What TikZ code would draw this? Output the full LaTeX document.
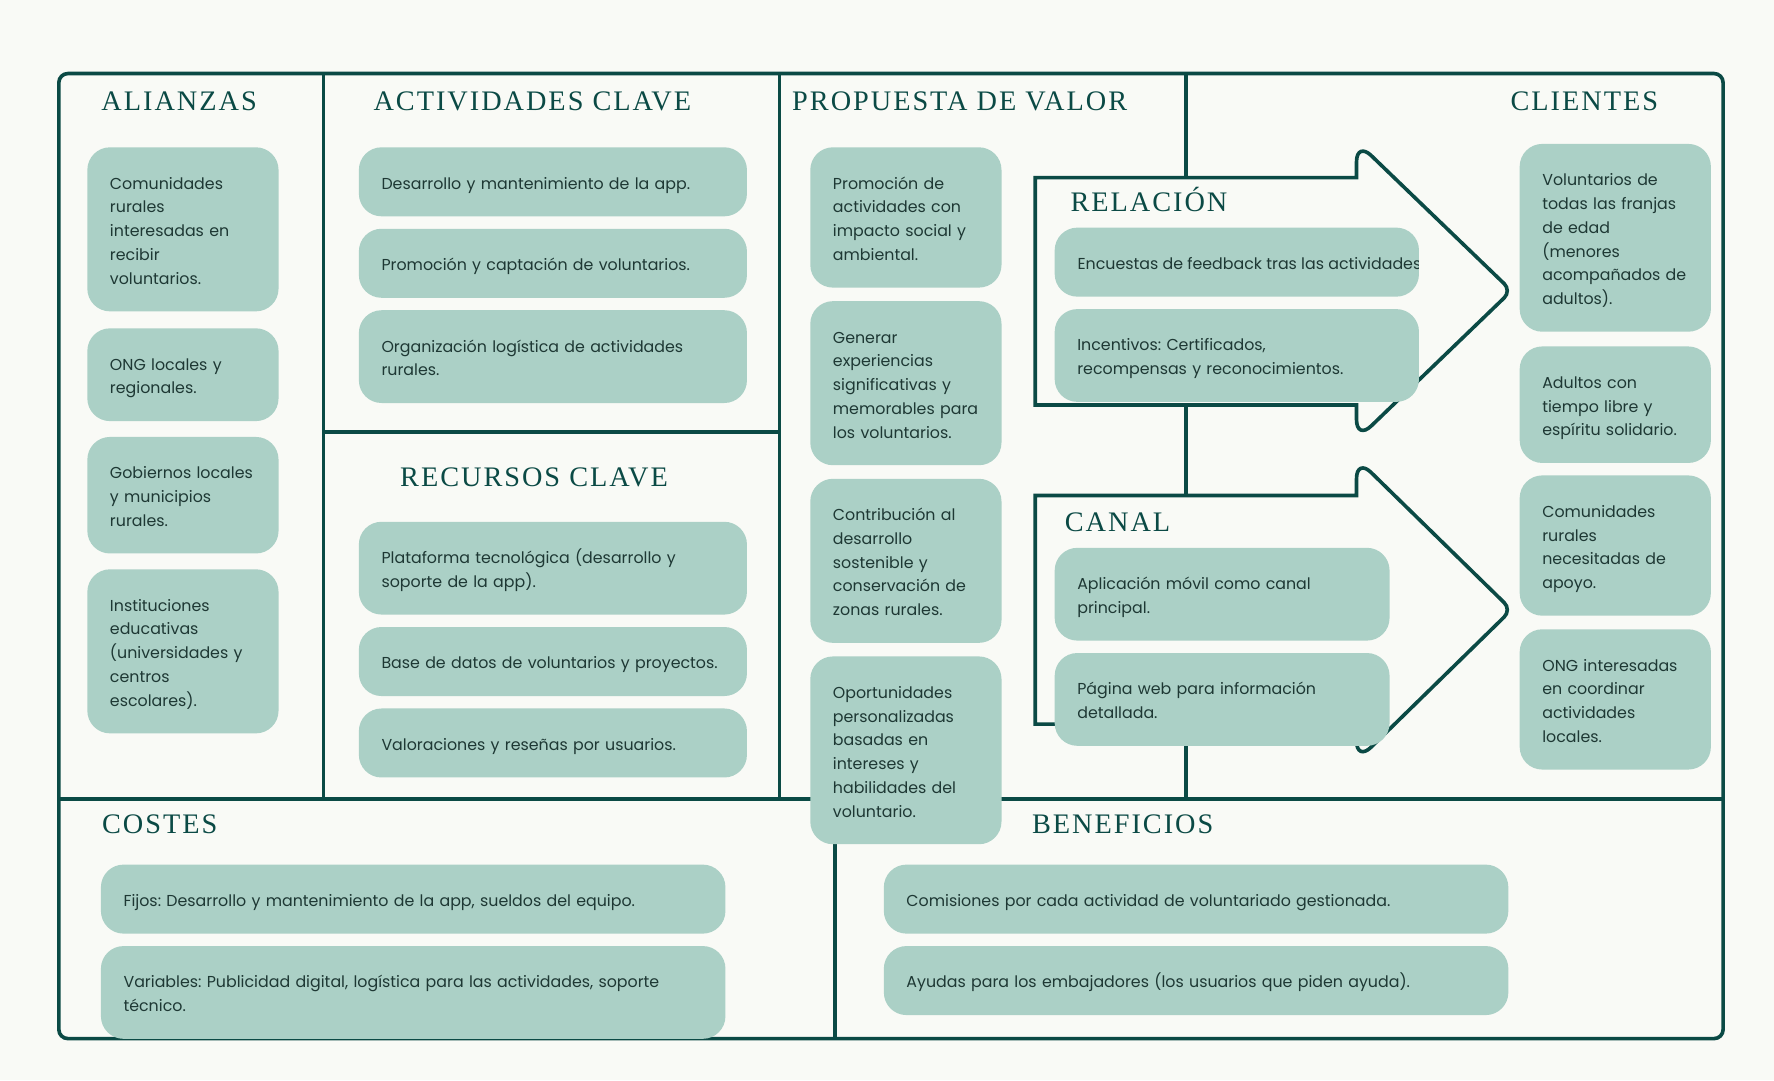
\documentclass[tikz,border=0pt]{standalone}
\usepackage{fontspec}
\setmainfont{Poppins}
\newfontfamily\headfont[LetterSpace=7]{Liberation Serif}
\definecolor{canvas}{HTML}{F9FAF6}
\definecolor{pine}{HTML}{0B4A45}
\definecolor{sage}{HTML}{ABD0C6}
\definecolor{ink}{HTML}{1E3834}
\hyphenpenalty=10000
\exhyphenpenalty=10000
\frenchspacing

\begin{document}
\begin{tikzpicture}[x=1pt,y=-1pt,
    card/.style={fill=sage,rounded corners=20pt,anchor=north west,align=left,
      inner xsep=20pt,inner ysep=0pt,text=ink,font=\fontsize{14}{21}\selectfont,
      execute at begin node=\rule{0pt}{17pt},execute at end node=\rule[-4pt]{0pt}{4pt}},
    rows/.style={minimum height=21pt*#1+40pt},
    narrow/.style={card,minimum width=169pt,text width=129pt},
    wide/.style={card,minimum width=343pt,text width=303pt},
    relbox/.style={card,minimum width=322pt,text width=282pt},
    canbox/.style={card,minimum width=296pt,text width=256pt},
    long/.style={card,minimum width=552pt,text width=512pt},
    head/.style={anchor=base west,inner sep=0pt,text=pine,font=\headfont\fontsize{25}{25}\selectfont},
    frame/.style={draw=pine,line width=3.2pt},
    bigarrow/.style={fill=canvas,draw=pine,line width=3.2pt}]
  \fill[canvas] (0,0) rectangle (1568,955);
  \useasboundingbox (0,0) rectangle (1568,955);

  \draw[frame,rounded corners=8pt] (52,65) rectangle (1523,918);
  \draw[frame] (286,65) -- (286,706) (689,65) -- (689,706) (1048,65) -- (1048,706)
    (52,706) -- (1523,706) (738,706) -- (738,918) (286,382) -- (689,382);

  \draw[bigarrow] (915,157) -- (1199,157) [rounded corners=18pt] -- (1199,125) [rounded corners=9pt] -- (1336,257)
    [rounded corners=18pt] -- (1199,389) [sharp corners] -- (1199,358) -- (915,358) -- cycle;
  \draw[bigarrow] (915,438) -- (1199,438) [rounded corners=18pt] -- (1199,405) [rounded corners=9pt] -- (1336,539)
    [rounded corners=18pt] -- (1199,673) [sharp corners] -- (1199,640) -- (915,640) -- cycle;

  \node[head] (alianzas) at (89.5,98) {ALIANZAS};
  \node[head] (actividades) at (330,98) {ACTIVIDADES CLAVE};
  \node[head] (propuesta) at (700,98) {PROPUESTA DE VALOR};
  \node[head] (clientes) at (1335,98) {CLIENTES};
  \node[head] (recursos) at (353.5,430) {RECURSOS CLAVE};
  \node[head] (relacion) at (946,187) {RELACIÓN};
  \node[head] (canal) at (941,470) {CANAL};
  \node[head] (costes) at (90,737) {COSTES};
  \node[head] (beneficios) at (912,737) {BENEFICIOS};

  \node[narrow,rows=5] (ali1) at (77,130) {Comunidades\\rurales\\interesadas en\\recibir\\voluntarios.};
  \node[narrow,rows=2] (ali2) at (77,290) {ONG locales y\\regionales.};
  \node[narrow,rows=3] (ali3) at (77,386) {Gobiernos~locales\\y municipios\\rurales.};
  \node[narrow,rows=5] (ali4) at (77,503) {Instituciones\\educativas\\(universidades~y\\centros\\escolares).};

  \node[wide,rows=1] (act1) at (317,130) {Desarrollo y mantenimiento de la app.};
  \node[wide,rows=1] (act2) at (317,202) {Promoción y captación de voluntarios.};
  \node[wide,rows=2] (act3) at (317,274) {Organización logística de actividades\\rurales.};
  \node[wide,rows=2] (rec1) at (317,461) {Plataforma tecnológica (desarrollo y\\soporte de la app).};
  \node[wide,rows=1] (rec2) at (317,554) {Base de datos de voluntarios y proyectos.};
  \node[wide,rows=1] (rec3) at (317,626) {Valoraciones y reseñas por usuarios.};

  \node[narrow,rows=4] (val1) at (716,130) {Promoción de\\actividades con\\impacto social~y\\ambiental.};
  \node[narrow,rows=5] (val2) at (716,266) {Generar\\experiencias\\significativas~y\\memorables~para\\los voluntarios.};
  \node[narrow,rows=5] (val3) at (716,423) {Contribución~al\\desarrollo\\sostenible y\\conservación~de\\zonas rurales.};
  \node[narrow,rows=6] (val4) at (716,580) {Oportunidades\\personalizadas\\basadas en\\intereses y\\habilidades~del\\voluntario.};

  \node[relbox,rows=1,path picture={
      \node[anchor=west,inner sep=0pt,minimum width=0pt,minimum height=0pt,text width=,text=ink]
        at ([xshift=20pt]path picture bounding box.west) {Encuestas de feedback tras las actividades.};}]
    (rel1) at (932,201) {};
  \node[relbox,rows=2] (rel2) at (932,273) {Incentivos: Certificados,\\recompensas y reconocimientos.};
  \node[canbox,rows=2] (can1) at (932,484) {Aplicación móvil como canal\\principal.};
  \node[canbox,rows=2] (can2) at (932,577) {Página web para información\\detallada.};

  \node[narrow,rows=6] (cli1) at (1343,127) {Voluntarios de\\todas las franjas\\de edad\\(menores\\acompañados~de\\adultos).};
  \node[narrow,rows=3] (cli2) at (1343,306) {Adultos con\\tiempo libre y\\espíritu~solidario.};
  \node[narrow,rows=4] (cli3) at (1343,420) {Comunidades\\rurales\\necesitadas~de\\apoyo.};
  \node[narrow,rows=4] (cli4) at (1343,556) {ONG~interesadas\\en coordinar\\actividades\\locales.};

  \node[long,rows=1] (cos1) at (89,764) {Fijos: Desarrollo y mantenimiento de la app, sueldos del equipo.};
  \node[long,rows=2] (cos2) at (89,836) {Variables: Publicidad digital, logística para las actividades, soporte\\técnico.};
  \node[long,rows=1] (ben1) at (781,764) {Comisiones por cada actividad de voluntariado gestionada.};
  \node[long,rows=1] (ben2) at (781,836) {Ayudas para los embajadores (los usuarios que piden ayuda).};
\end{tikzpicture}
\end{document}
